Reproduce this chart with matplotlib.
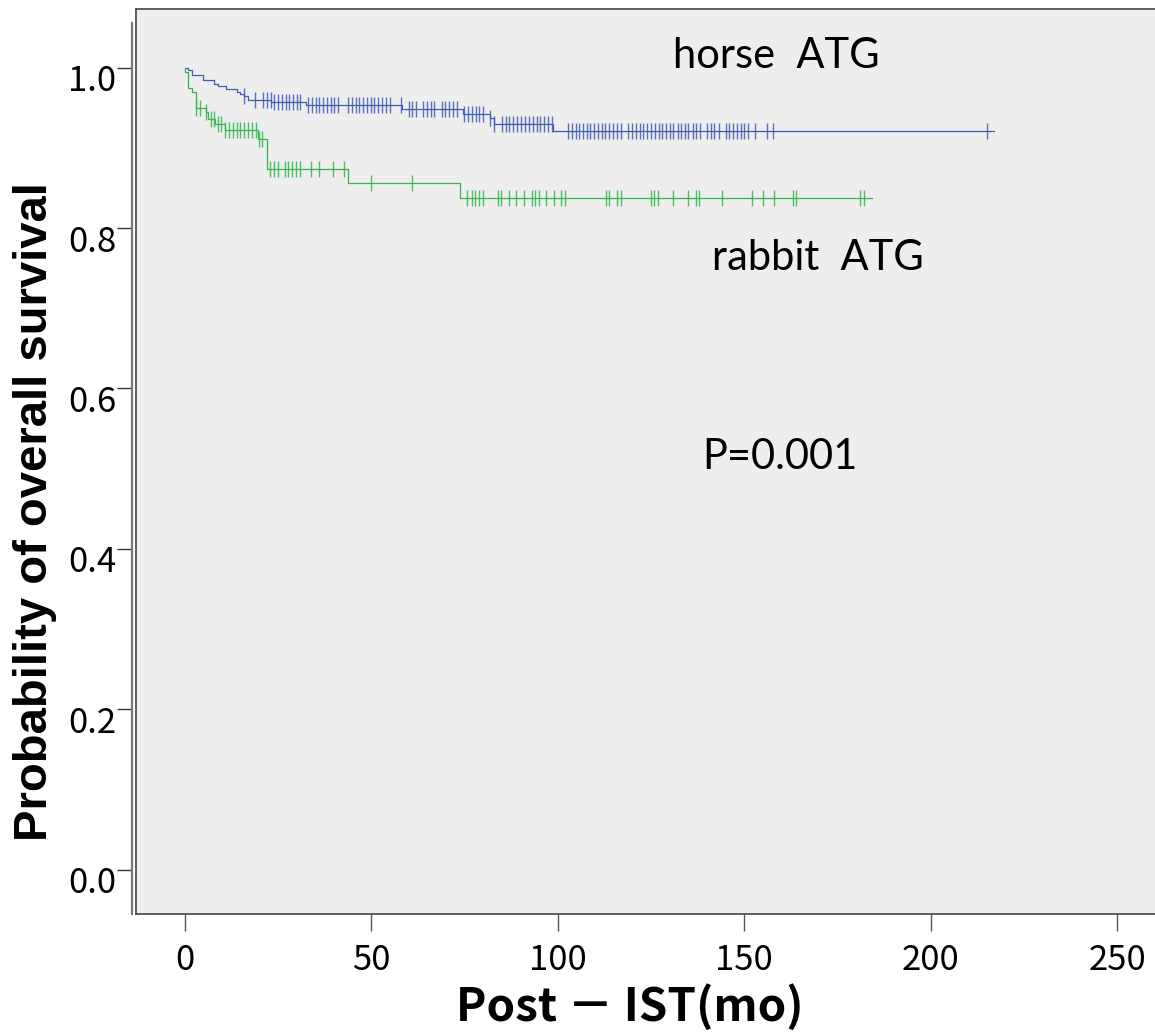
import numpy as np
import matplotlib
matplotlib.use("Agg")
import matplotlib.pyplot as plt
from matplotlib.transforms import ScaledTranslation

# ---------------- data ----------------
# horse ATG: step times (months) and survival level after each step
horse_times = [0.9, 1.8, 4.9, 7.9, 8.9, 10.9, 13.9, 14.8, 15.8, 16.8,
               23.2, 32.6, 58.1, 74.7, 81.8, 82.9, 98.8]
horse_surv = [0.997, 0.991, 0.984, 0.980, 0.977, 0.973, 0.970, 0.967, 0.964, 0.960,
              0.957, 0.953, 0.948, 0.942, 0.937, 0.930, 0.921]
horse_end = 217.0
horse_censor = [15.8, 18.8, 21.0, 21.9, 23.0, 23.9, 25.0, 26.1, 27.1, 28.0, 29.1, 30.0,
                30.8, 32.9, 34.0, 35.1, 36.0, 37.1, 38.0, 39.1, 40.0, 41.1, 43.8, 44.7,
                45.8, 46.8, 47.8, 48.7, 49.8, 50.8, 51.9, 52.9, 53.9, 55.0, 57.9, 60.1,
                61.0, 62.0, 63.9, 65.0, 66.0, 66.9, 68.9, 69.7, 70.8, 71.8, 72.9, 74.8,
                75.9, 76.9, 78.0, 78.9, 80.0, 81.8, 82.9, 85.0, 86.0, 87.0, 88.0, 89.1,
                90.1, 91.2, 92.3, 93.3, 94.3, 95.2, 96.3, 97.3, 98.4, 102.8, 103.7,
                104.8, 105.8, 106.7, 107.8, 108.6, 109.7, 110.7, 111.8, 112.7, 113.7,
                114.7, 115.8, 116.9, 118.9, 120.0, 121.0, 121.9, 122.9, 124.0, 125.0,
                126.1, 127.0, 128.0, 129.0, 130.1, 131.0, 132.1, 133.0, 134.1, 135.0,
                136.1, 137.1, 138.0, 139.9, 141.0, 141.9, 143.1, 145.0, 145.9, 146.9,
                148.0, 149.1, 150.0, 151.1, 152.9, 156.0, 157.8, 215.0]

# rabbit ATG
rabbit_times = [0.1, 0.9, 1.8, 2.9, 5.8, 6.3, 8.0, 10.7, 19.7, 21.9, 43.8, 73.8]
rabbit_surv = [0.994, 0.975, 0.969, 0.950, 0.944, 0.936, 0.930, 0.922, 0.911, 0.874,
               0.856, 0.837]
rabbit_end = 184.2
rabbit_censor = [2.9, 4.0, 5.8, 7.0, 7.9, 8.8, 9.8, 10.7, 11.8, 12.8, 13.9, 14.9, 15.9,
                 17.0, 17.9, 19.0, 19.8, 20.8, 22.8, 23.9, 24.9, 26.8, 27.7, 28.6, 29.7,
                 30.8, 33.8, 35.9, 39.8, 42.7, 49.9, 61.0, 75.7, 76.9, 77.9, 78.9, 79.9,
                 83.9, 84.8, 86.9, 88.9, 90.9, 93.0, 93.8, 95.0, 96.8, 98.9, 100.9,
                 101.9, 112.9, 113.8, 115.8, 116.9, 124.9, 125.8, 126.8, 131.0, 135.0,
                 137.0, 137.9, 144.0, 152.0, 155.0, 158.0, 163.0, 163.9, 181.1, 182.0]

x_ticks = [0, 50, 100, 150, 200, 250]
y_ticks = [0.0, 0.2, 0.4, 0.6, 0.8, 1.0]

# ---------------- figure ----------------
W, H, DPI = 1155, 1034, 100
fig = plt.figure(figsize=(W / DPI, H / DPI), dpi=DPI)
fig.patch.set_facecolor("white")

L, R, T, B = 136, 1158, 9, 914
ax = fig.add_axes([L / W, 1 - B / H, (R - L) / W, (B - T) / H])
ax.set_facecolor("#EEEEEE")
ax.set_xlim(-13.1, 260.9)
ax.set_ylim(-0.055, 1.073)

BLUE = "#3F5CB6"
GREEN = "#33B54A"


def km(ax, times, surv, end, censor, color):
    t = np.concatenate([[0.0], times, [end]])
    s = np.concatenate([[1.0], surv, [surv[-1]]])
    ax.step(t, s, where="post", color=color, lw=0.9, zorder=3)
    idx = np.searchsorted(np.asarray(times), np.asarray(censor), side="right")
    lev = np.concatenate([[1.0], surv])[idx]
    ax.plot(censor, lev, ls="none", marker="|", ms=11.5, mew=1.0, color=color,
            alpha=0.85, zorder=4)


km(ax, horse_times, horse_surv, horse_end, horse_censor, BLUE)
km(ax, rabbit_times, rabbit_surv, rabbit_end, rabbit_censor, GREEN)

# frame
for s in ["top", "right", "bottom"]:
    ax.spines[s].set_color("#444444")
    ax.spines[s].set_linewidth(1.2)
ax.spines["left"].set_position(("outward", 3))
ax.spines["left"].set_color("#777777")
ax.spines["left"].set_linewidth(1.6)
ax.spines["left"].set_bounds(-0.055, 1.055)
ax.axvline(-13.1, color="#444444", lw=1.2, zorder=5, clip_on=False)

tick_font = {"family": ["Noto Sans CJK JP", "DejaVu Sans"], "size": 25}
ax.set_xticks(x_ticks)
ax.set_xticklabels([str(v) for v in x_ticks], **tick_font)
ax.set_yticks(y_ticks)
ax.set_yticklabels([f"{v:.1f}" for v in y_ticks], **tick_font)
ax.tick_params(axis="x", direction="out", length=12, width=1.0, color="#555555",
               pad=9)
ax.tick_params(axis="y", direction="out", length=11, width=1.0, color="#333333",
               pad=0)
for lab in ax.get_yticklabels():
    lab.set_transform(lab.get_transform() + ScaledTranslation(0, -0.10, fig.dpi_scale_trans))

# labels
fig.text(35 / W, 1 - 512 / H, "Probability of overall survival", rotation=90,
         ha="center", va="center", family=["Liberation Sans", "DejaVu Sans"],
         weight="bold", size=34)
fig.text(630 / W, 1 - 1007 / H, "Post － IST(mo)", ha="center", va="center",
         family=["Noto Sans CJK JP", "DejaVu Sans"], weight="bold", size=33)

txt_font = dict(family=["Lato", "DejaVu Sans"], size=30, ha="center", va="center")
ax.text(158.5, 1.014, "horse  ATG", **txt_font)
ax.text(169.8, 0.763, "rabbit  ATG", **txt_font)
ax.text(159.6, 0.515, "P=0.001", **txt_font)

fig.savefig("out.png", dpi=DPI, facecolor="white")
